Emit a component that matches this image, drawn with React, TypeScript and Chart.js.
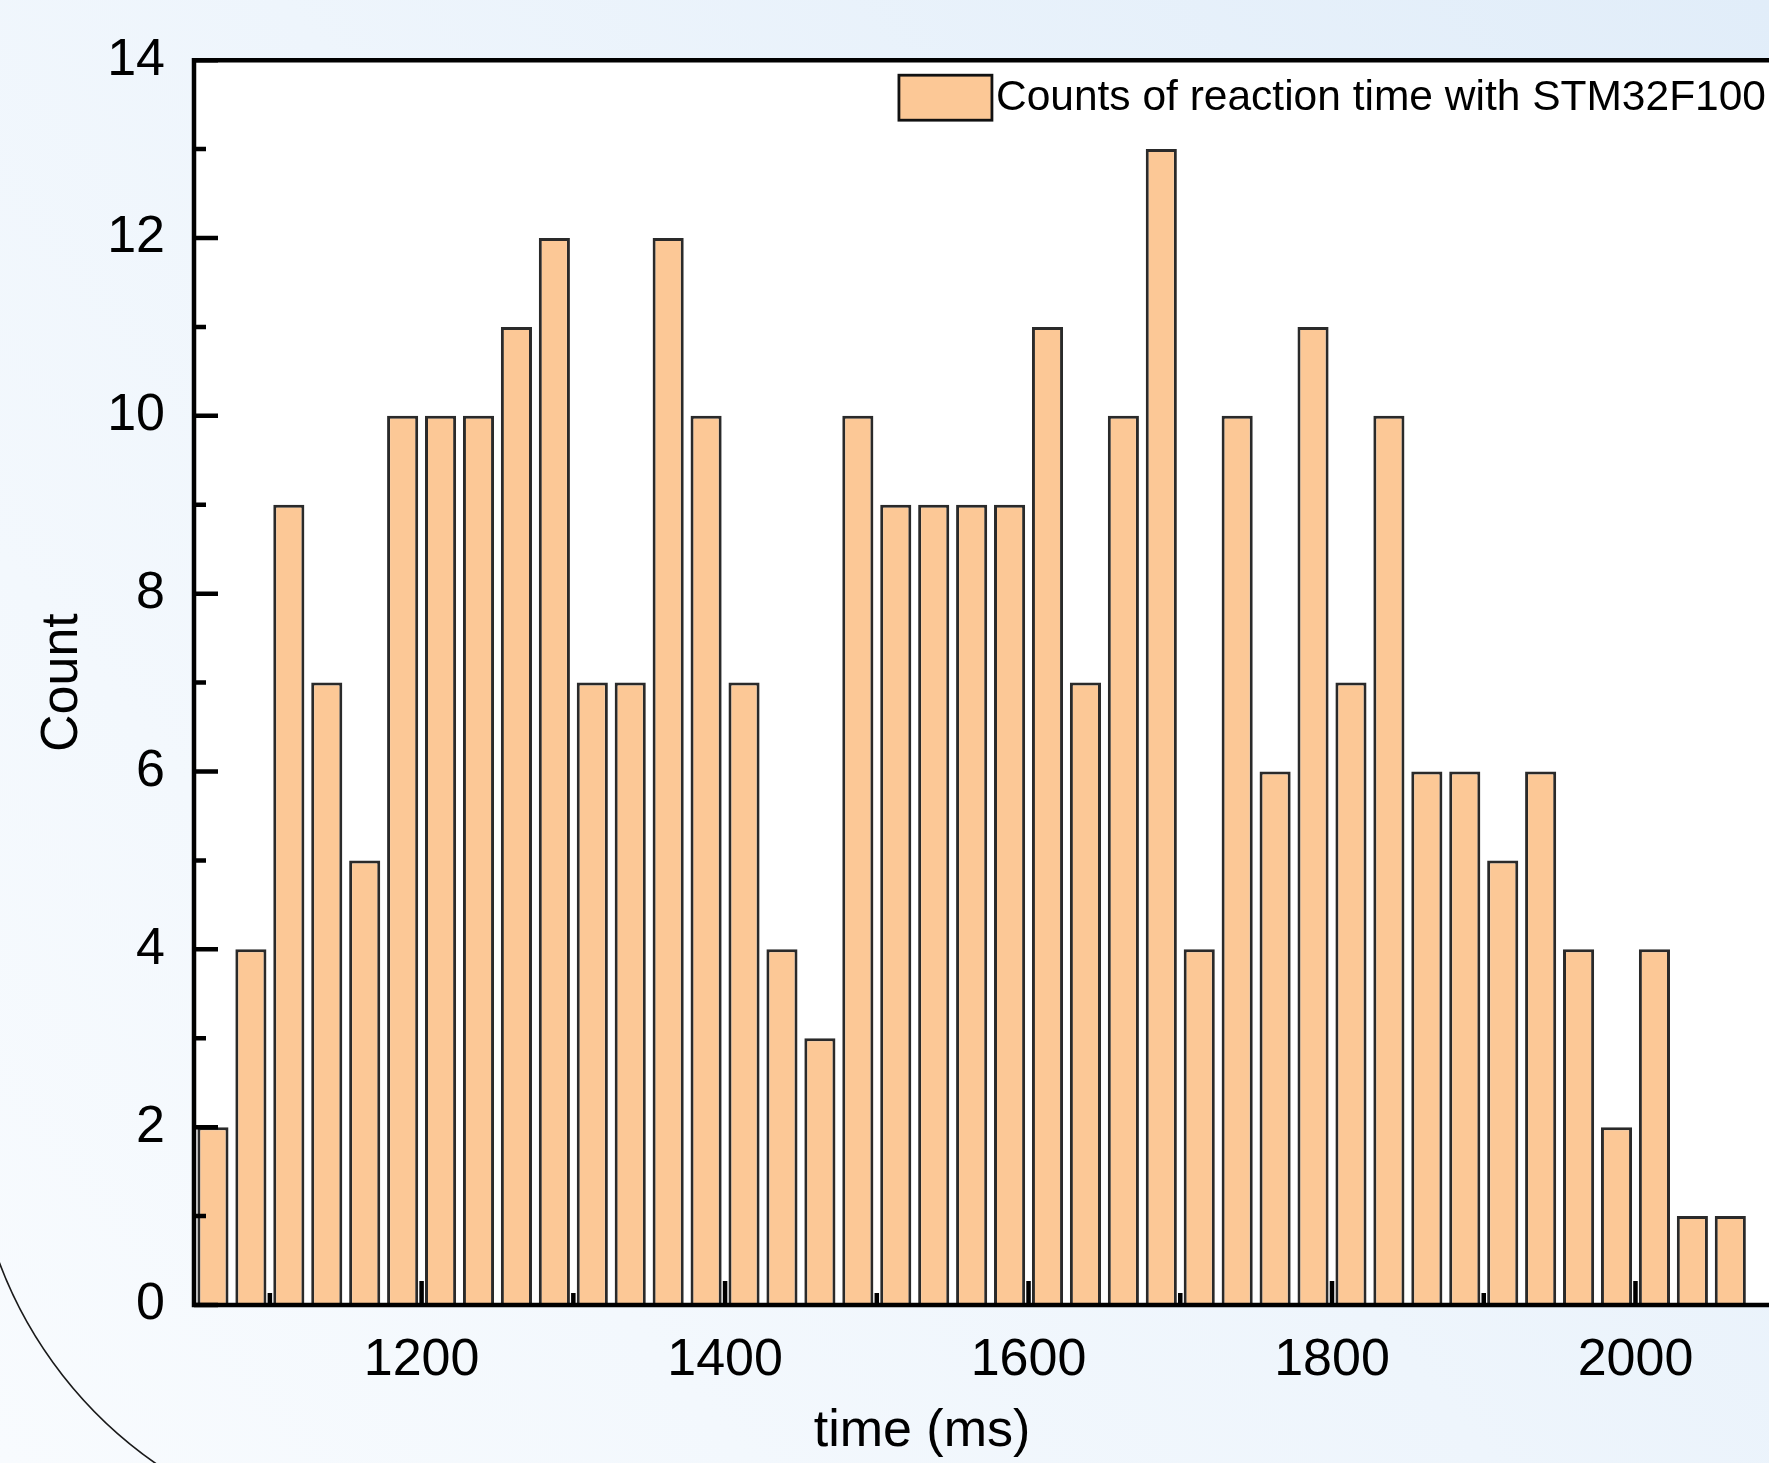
import React, { useEffect, useRef } from "react";
import { Chart, registerables } from "chart.js";

Chart.register(...registerables);

// ---- data ----
const BIN_CENTERS = [
  1062.5, 1087.5, 1112.5, 1137.5, 1162.5, 1187.5, 1212.5, 1237.5, 1262.5, 1287.5,
  1312.5, 1337.5, 1362.5, 1387.5, 1412.5, 1437.5, 1462.5, 1487.5, 1512.5, 1537.5,
  1562.5, 1587.5, 1612.5, 1637.5, 1662.5, 1687.5, 1712.5, 1737.5, 1762.5, 1787.5,
  1812.5, 1837.5, 1862.5, 1887.5, 1912.5, 1937.5, 1962.5, 1987.5, 2012.5, 2037.5,
  2062.5,
];
const COUNTS = [
  2, 4, 9, 7, 5, 10, 10, 10, 11, 12,
  7, 7, 12, 10, 7, 4, 3, 10, 9, 9,
  9, 9, 11, 7, 10, 13, 4, 10, 6, 11,
  7, 10, 6, 6, 5, 6, 4, 2, 4, 1,
  1,
];
const SERIES_LABEL = "Counts of reaction time with STM32F100";
const X_TITLE = "time (ms)";
const Y_TITLE = "Count";
const X_MAJOR_TICKS = [1200, 1400, 1600, 1800, 2000];
const X_MINOR_TICKS = [1100, 1300, 1500, 1700, 1900];
const Y_MAJOR_TICKS = [0, 2, 4, 6, 8, 10, 12, 14];
const Y_MINOR_TICKS = [1, 3, 5, 7, 9, 11, 13];
const X_MIN = 1050;
const X_MAX = 2088;
const Y_MIN = 0;
const Y_MAX = 14;

// ---- styles ----
const FONT_FAMILY = '"Liberation Sans", Arial, Helvetica, sans-serif';
const BAR_FILL = "#FCC896";
const BAR_BORDER = "#2a2a2a";
const W = 1769;
const H = 1463;

const backgroundPlugin = {
  id: "slideBackground",
  beforeDraw(chart: any) {
    const { ctx, chartArea: ca } = chart;
    ctx.save();
    const g = ctx.createLinearGradient(0, H, W, 0);
    g.addColorStop(0, "#F8FBFE");
    g.addColorStop(0.5, "#EEF5FC");
    g.addColorStop(1, "#E1EDF9");
    ctx.fillStyle = g;
    ctx.fillRect(0, 0, W, H);
    ctx.fillStyle = "#FFFFFF";
    ctx.fillRect(ca.left, ca.top, ca.right - ca.left, ca.bottom - ca.top);
    // decorative arc in lower-left corner
    ctx.beginPath();
    ctx.lineWidth = 1.6;
    ctx.strokeStyle = "#1a1a1a";
    ctx.arc(400, 1112, 428, (122 * Math.PI) / 180, (162 * Math.PI) / 180);
    ctx.stroke();
    ctx.restore();
  },
};

const framePlugin = {
  id: "frameAndTicks",
  afterDatasetsDraw(chart: any) {
    const { ctx, chartArea: ca, scales } = chart;
    const xs = scales.x;
    const ys = scales.y;
    ctx.save();
    ctx.strokeStyle = "#000";
    ctx.lineCap = "butt";
    // ticks (pointing inward)
    ctx.lineWidth = 4.5;
    const majorLen = 24;
    const minorLen = 12;
    ctx.beginPath();
    Y_MAJOR_TICKS.forEach((v) => {
      const y = ys.getPixelForValue(v);
      ctx.moveTo(ca.left, y);
      ctx.lineTo(ca.left + majorLen, y);
    });
    Y_MINOR_TICKS.forEach((v) => {
      const y = ys.getPixelForValue(v);
      ctx.moveTo(ca.left, y);
      ctx.lineTo(ca.left + minorLen, y);
    });
    X_MAJOR_TICKS.forEach((v) => {
      const x = xs.getPixelForValue(v);
      ctx.moveTo(x, ca.bottom);
      ctx.lineTo(x, ca.bottom - majorLen);
    });
    X_MINOR_TICKS.forEach((v) => {
      const x = xs.getPixelForValue(v);
      ctx.moveTo(x, ca.bottom);
      ctx.lineTo(x, ca.bottom - minorLen);
    });
    ctx.stroke();
    // axis lines
    ctx.lineWidth = 4.5;
    ctx.beginPath();
    ctx.moveTo(ca.left, ca.top - 2.25);
    ctx.lineTo(ca.left, ca.bottom + 2.25);
    ctx.moveTo(ca.left - 2.25, ca.bottom);
    ctx.lineTo(ca.right, ca.bottom);
    ctx.moveTo(ca.left - 2.25, ca.top);
    ctx.lineTo(ca.right, ca.top);
    ctx.stroke();

    // x axis title (centred on the original, wider plot frame)
    ctx.fillStyle = "#000";
    ctx.font = `52px ${FONT_FAMILY}`;
    ctx.textAlign = "center";
    ctx.textBaseline = "middle";
    ctx.fillText(X_TITLE, ca.left + 728, H - 31);

    // legend inside plot area (top-right)
    const ds = chart.data.datasets[0];
    const fontSize = 42.5;
    ctx.font = `${fontSize}px ${FONT_FAMILY}`;
    const tw = ctx.measureText(ds.label).width;
    const textRight = ca.right - 3;
    const textX = textRight - tw;
    const boxW = 93;
    const boxH = 45;
    const boxRight = textX - 4;
    const boxTop = ca.top + 15;
    ctx.fillStyle = ds.backgroundColor;
    ctx.fillRect(boxRight - boxW, boxTop, boxW, boxH);
    ctx.lineWidth = 2.8;
    ctx.strokeStyle = "#111";
    ctx.strokeRect(boxRight - boxW, boxTop, boxW, boxH);
    ctx.fillStyle = "#000";
    ctx.textAlign = "left";
    ctx.textBaseline = "middle";
    ctx.fillText(ds.label, textX, boxTop + boxH / 2 + 1);
    ctx.restore();
  },
};

export default function App() {
  const canvasRef = useRef<HTMLCanvasElement | null>(null);

  useEffect(() => {
    const canvas = canvasRef.current;
    if (!canvas) return;
    const tickFont = { family: FONT_FAMILY, size: 52 };
    const chart = new Chart(canvas, {
      type: "bar",
      data: {
        datasets: [
          {
            label: SERIES_LABEL,
            data: BIN_CENTERS.map((x, i) => ({ x, y: COUNTS[i] })),
            backgroundColor: BAR_FILL,
            borderColor: BAR_BORDER,
            borderWidth: 3,
            borderSkipped: "start",
            barPercentage: 0.82,
            categoryPercentage: 1,
          },
        ],
      },
      options: {
        responsive: false,
        animation: false,
        layout: { padding: { left: 0, right: 0, top: 58.5, bottom: 0 } },
        plugins: {
          legend: { display: false },
          tooltip: { enabled: false },
        },
        scales: {
          x: {
            type: "linear",
            min: X_MIN,
            max: X_MAX,
            offset: false,
            grid: { display: false, drawTicks: false, offset: false },
            border: { display: false },
            ticks: {
              font: tickFont,
              color: "#000",
              padding: 24,
              autoSkip: false,
              maxRotation: 0,
              callback: (v: any) => String(v),
            },
            afterBuildTicks: (s: any) => {
              s.ticks = X_MAJOR_TICKS.map((v) => ({ value: v }));
            },
            afterFit: (s: any) => {
              s.height = H - 1305;
            },
            title: { display: false },
          },
          y: {
            type: "linear",
            min: Y_MIN,
            max: Y_MAX,
            grid: { display: false, drawTicks: false },
            border: { display: false },
            ticks: {
              font: tickFont,
              color: "#000",
              padding: 29,
              autoSkip: false,
              callback: (v: any) => String(v),
            },
            afterBuildTicks: (s: any) => {
              s.ticks = Y_MAJOR_TICKS.map((v) => ({ value: v }));
            },
            afterFit: (s: any) => {
              s.width = 194;
            },
            title: {
              display: true,
              text: Y_TITLE,
              color: "#000",
              font: { family: FONT_FAMILY, size: 52 },
              padding: { top: 31, bottom: 0 },
            },
          },
        },
      },
      plugins: [backgroundPlugin, framePlugin],
    } as any);
    return () => chart.destroy();
  }, []);

  return (
    <div style={{ position: "absolute", left: 0, top: 0, width: W, height: H }}>
      <canvas ref={canvasRef} width={W} height={H} style={{ display: "block", width: W, height: H }} />
    </div>
  );
}
